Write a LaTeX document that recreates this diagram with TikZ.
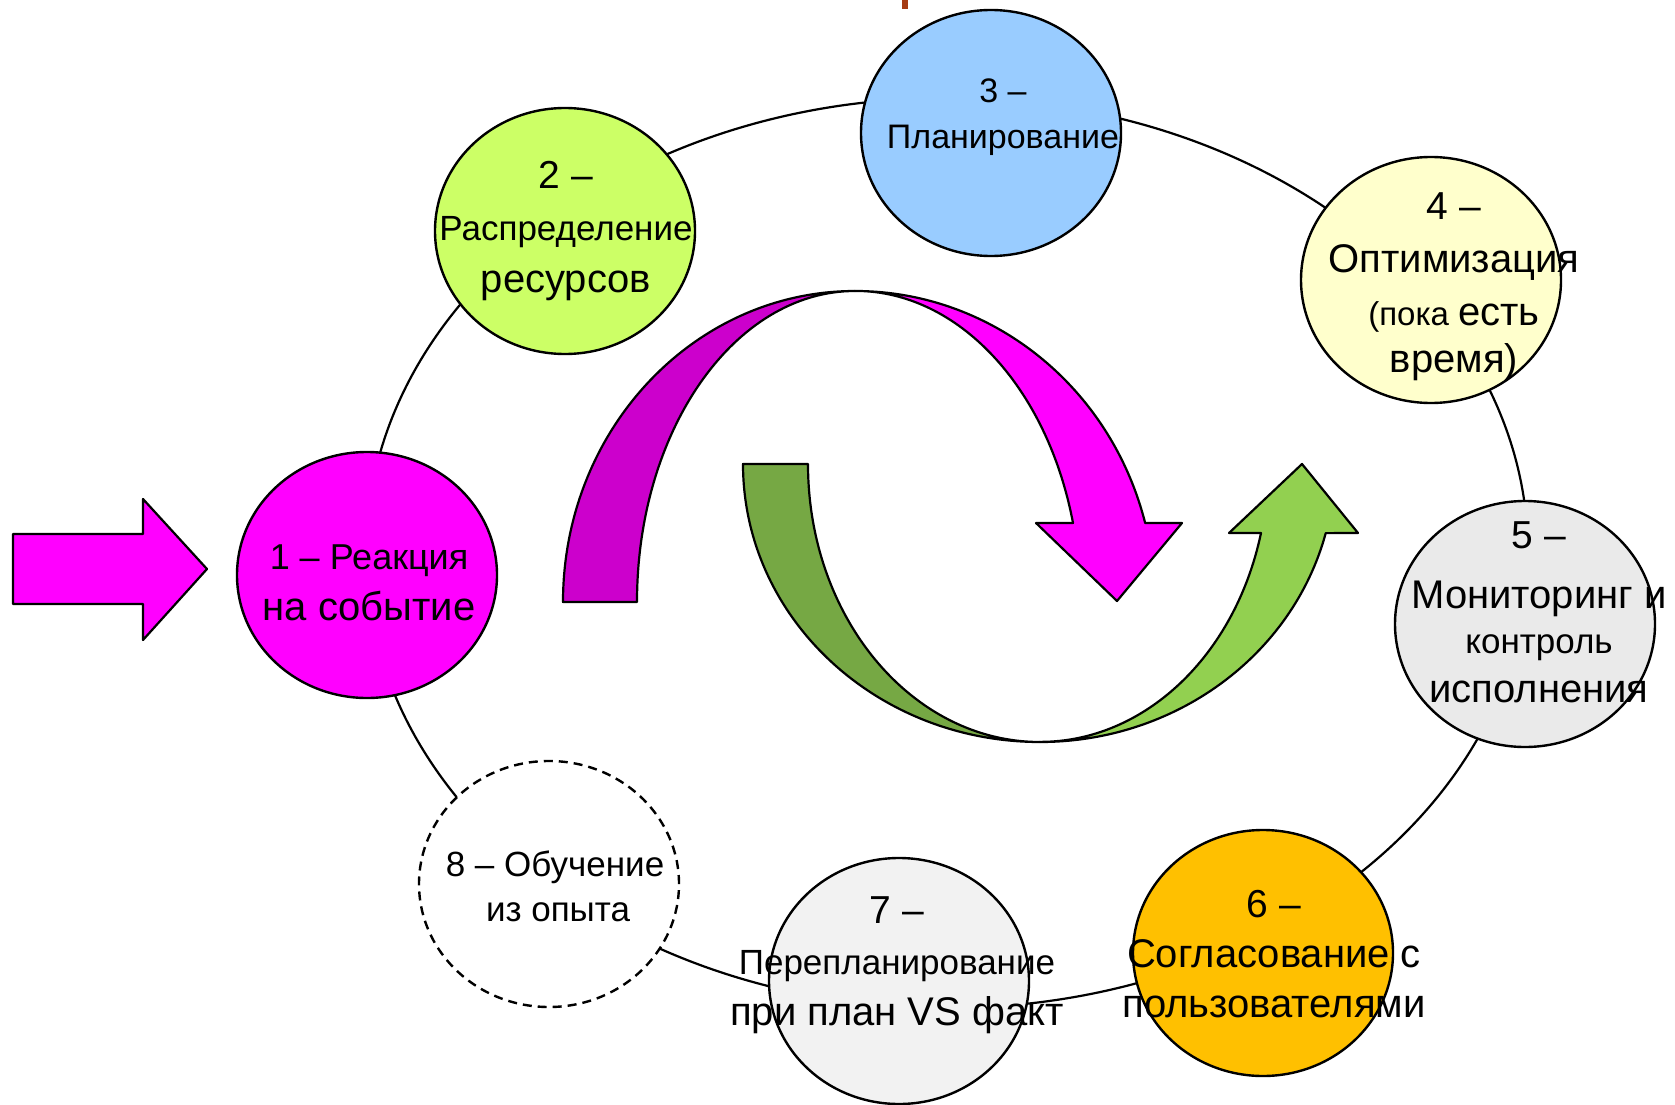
\documentclass[tikz,border=0pt]{standalone}
\usepackage{fontspec}
\setmainfont{Liberation Sans}
\usetikzlibrary{shapes.geometric}
\definecolor{stepA}{HTML}{FF00FF}
\definecolor{stepB}{HTML}{CCFF66}
\definecolor{stepC}{HTML}{99CCFF}
\definecolor{stepD}{HTML}{FFFFCC}
\definecolor{stepE}{HTML}{EAEAEA}
\definecolor{stepF}{HTML}{FFC000}
\definecolor{stepG}{HTML}{F2F2F2}
\definecolor{magback}{HTML}{CC00CC}
\definecolor{grnback}{HTML}{76A844}
\definecolor{grnfront}{HTML}{92D050}
\definecolor{tick}{HTML}{A63C14}
\newcommand{\tsz}[1]{\fontsize{#1}{#1}\selectfont}
\tikzset{
        cyc_n/.style = {ellipse, draw=black, line width=2.4pt, inner sep=0pt,
            minimum width=260pt, minimum height=246pt},
        cyc_t/.style = {align=center, anchor=base, inner sep=0pt, text=black},
        ribbon/.style = {draw=black, line width=2.2pt, line join=round},
        ring/.style = {draw=black, line width=2.2pt}
    }

\begin{document}
\begin{tikzpicture}[x=1pt, y=1pt]
    \useasboundingbox (0,0) rectangle (1675,-1105);
    \fill[tick] (902,0) rectangle (908,-9);
    % the ring behind the steps
    \draw[ring] (947,-553) ellipse [x radius=581, y radius=455];
    % input arrow
    \draw[ribbon, fill=stepA] (13,-534) -- (143,-534) -- (143,-499) -- (207,-569)
        -- (143,-640) -- (143,-604) -- (13,-604) -- cycle;
    % magenta ribbon arrow
    \draw[ribbon, fill=magback] (563,-602) -- (637,-602)
        arc[start angle=180, end angle=90, x radius=218, y radius=311]
        arc[start angle=90, end angle=180, x radius=292, y radius=311] -- cycle;
    \draw[ribbon, fill=stepA] (855,-291)
        arc[start angle=90, end angle=14.7, x radius=300, y radius=311]
        -- (1182,-523) -- (1117,-601) -- (1036,-523) -- (1073,-523)
        arc[start angle=14.7, end angle=90, x radius=225, y radius=311] -- cycle;
    % green ribbon arrow
    \draw[ribbon, fill=grnback] (743,-464) -- (808,-464)
        arc[start angle=180, end angle=270, x radius=232, y radius=278]
        arc[start angle=270, end angle=180, x radius=297, y radius=278] -- cycle;
    \draw[ribbon, fill=grnfront] (1040,-742)
        arc[start angle=270, end angle=345.6, x radius=295, y radius=278]
        -- (1358,-533) -- (1302,-464) -- (1229,-533) -- (1261,-533)
        arc[start angle=345.6, end angle=270, x radius=228, y radius=278] -- cycle;
    % steps
    \node[cyc_n, fill=stepA] (s1) at (367,-575) {};
    \node[cyc_n, fill=stepB] (s2) at (565,-231) {};
    \node[cyc_n, fill=stepC] (s3) at (991,-133) {};
    \node[cyc_n, fill=stepD] (s4) at (1431,-280) {};
    \node[cyc_n, fill=stepE] (s5) at (1525,-624) {};
    \node[cyc_n, fill=stepF] (s6) at (1263,-953) {};
    \node[cyc_n, fill=stepG] (s7) at (899,-981) {};
    \node[cyc_n, fill=white, dash pattern=on 9pt off 6pt] (s8) at (549,-884) {};
    % labels (anchored at the last baseline)
    \node[cyc_t, font=\fontsize{38}{51}\selectfont] (t1) at (369,-620)
        {{\tsz{36}1 – Реакция}\\{\tsz{40}на событие}};
    \node[cyc_t, font=\fontsize{38}{52}\selectfont] (t2) at (566,-292)
        {{\tsz{39}2 –}\\{\tsz{35}Распределение}\\{\tsz{40}ресурсов}};
    \node[cyc_t, font=\fontsize{34}{45}\selectfont] (t3) at (1003,-148)
        {{\tsz{34}3 –}\\{\tsz{34}Планирование}};
    \node[cyc_t, font=\fontsize{40}{53}\selectfont] (t4) at (1454,-372)
        {{\tsz{39}4 –}\\{\tsz{40}Оптимизация}\\{\tsz{33}(пока \tsz{40}есть}\\[-6pt]{\tsz{40}время)}};
    \node[cyc_t, font=\fontsize{40}{45}\selectfont] (t5) at (1539,-702)
        {{\tsz{39}5 –}\\[15pt]{\tsz{40}Мониторинг и}\\{\tsz{35}контроль}\\[4pt]{\tsz{40}исполнения}};
    \node[cyc_t, font=\fontsize{40}{50}\selectfont] (t6) at (1274,-1017)
        {{\tsz{39}6 –}\\{\tsz{40}Согласование с}\\{\tsz{40}пользователями}};
    \node[cyc_t, font=\fontsize{38}{51}\selectfont] (t7) at (897,-1025)
        {{\tsz{39}7 –}\\{\tsz{35}Перепланирование}\\{\tsz{40}при план VS факт}};
    \node[cyc_t, font=\fontsize{35}{45}\selectfont] (t8) at (555,-921)
        {{\tsz{35}8 – Обучение}\\{\tsz{35}\hspace*{6pt}из опыта}};
\end{tikzpicture}
\end{document}
